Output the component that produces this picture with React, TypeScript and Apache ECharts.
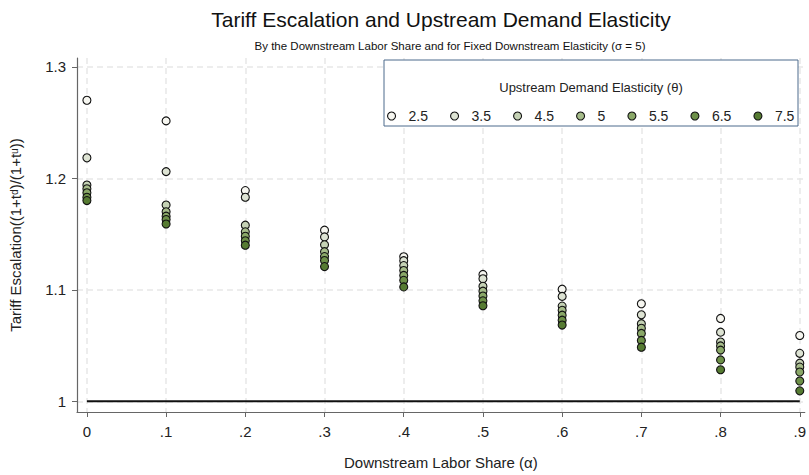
import React, { useEffect, useRef } from "react";
import * as echarts from "echarts";

const alphas = [0, 0.1, 0.2, 0.3, 0.4, 0.5, 0.6, 0.7, 0.8, 0.9];
const thetaNames = ["2.5", "3.5", "4.5", "5", "5.5", "6.5", "7.5"];
const theta2_5 = [1.27, 1.2515, 1.189, 1.1535, 1.1296, 1.1138, 1.1006, 1.0875, 1.0743, 1.059];
const theta3_5 = [1.2184, 1.206, 1.183, 1.1474, 1.1261, 1.1099, 1.0941, 1.0776, 1.062, 1.043];
const theta4_5 = [1.194, 1.176, 1.158, 1.1404, 1.1217, 1.1032, 1.0854, 1.0696, 1.0532, 1.0342];
const theta5 = [1.1906, 1.17, 1.152, 1.1342, 1.1173, 1.0988, 1.0816, 1.0655, 1.0497, 1.0307];
const theta5_5 = [1.187, 1.166, 1.148, 1.1298, 1.1129, 1.0944, 1.0772, 1.0609, 1.0459, 1.0263];
const theta6_5 = [1.183, 1.163, 1.144, 1.1263, 1.1085, 1.0901, 1.0728, 1.0546, 1.0371, 1.0182];
const theta7_5 = [1.18, 1.159, 1.14, 1.1208, 1.1026, 1.0857, 1.0684, 1.0485, 1.0283, 1.0094];
const seriesValues = [theta2_5, theta3_5, theta4_5, theta5, theta5_5, theta6_5, theta7_5];
const seriesColors = ["#f6f6f0", "#dde3d3", "#c5d2b5", "#a6bc8a", "#8aa868", "#6d9048", "#567b32"];
const xTicks = [0, 0.1, 0.2, 0.3, 0.4, 0.5, 0.6, 0.7, 0.8, 0.9];
const yTicks = [1, 1.1, 1.2, 1.3];
const baseline = [[0, 1], [0.9, 1]];

const FONT = "Liberation Sans, Arial, Helvetica, sans-serif";

export default function App() {
  const ref = useRef<HTMLDivElement>(null);
  useEffect(() => {
    if (!ref.current) return;
    const chart = echarts.init(ref.current, undefined, { renderer: "svg" });
    const scatterSeries = thetaNames.map((name, i) => ({
      name,
      type: "scatter",
      symbol: "circle",
      symbolSize: 8,
      z: 3 + i * 0.01,
      itemStyle: { color: seriesColors[i], borderColor: "#111", borderWidth: 1.1, opacity: 1 },
      data: alphas.map((a, j) => [a, seriesValues[i][j]]),
    }));
    const option: any = {
      animation: false,
      backgroundColor: "#ffffff",
      textStyle: { fontFamily: FONT },
      grid: { left: 72, right: 4, top: 58, bottom: 55, containLabel: false },
      xAxis: {
        type: "value",
        min: -0.0125,
        max: 0.9063,
        name: "Downstream Labor Share (\u03b1)",
        nameLocation: "middle",
        nameGap: 43,
        nameTextStyle: { fontSize: 15, color: "#222", fontFamily: FONT },
        axisLine: { show: true, onZero: false, lineStyle: { color: "#666", width: 1.2 } },
        axisTick: { show: true, length: 5, customValues: xTicks, lineStyle: { color: "#666" } },
        axisLabel: {
          customValues: xTicks,
          margin: 12,
          fontSize: 15,
          color: "#222",
          fontFamily: FONT,
          formatter: (v: number) => (Math.abs(v) < 1e-9 ? "0" : "." + Math.round(v * 10)),
        },
        splitLine: { show: true, lineStyle: { color: "#e8e8e8", type: [6, 4], width: 1.5 } },
      },
      yAxis: {
        type: "value",
        min: 0.9904,
        max: 1.3079,
        name: "Tariff Escalation((1+t\u1d48)/(1+t\u1d58))",
        nameLocation: "middle",
        nameGap: 54,
        nameTextStyle: { fontSize: 15, color: "#222", fontFamily: FONT },
        axisLine: { show: true, onZero: false, lineStyle: { color: "#666", width: 1.2 } },
        axisTick: { show: true, length: 5, customValues: yTicks, lineStyle: { color: "#666" } },
        axisLabel: {
          customValues: yTicks,
          margin: 11,
          fontSize: 15,
          color: "#222",
          fontFamily: FONT,
          formatter: (v: number) => (Math.abs(v - 1) < 1e-9 ? "1" : v.toFixed(1)),
        },
        splitLine: { show: true, lineStyle: { color: "#e8e8e8", type: [6, 4], width: 1.5 } },
      },
      legend: {
        show: true,
        orient: "horizontal",
        left: 387,
        top: 109,
        padding: 0,
        itemGap: 22,
        itemWidth: 16,
        itemHeight: 8,
        icon: "circle",
        itemStyle: { borderWidth: 1.1 },
        textStyle: { fontSize: 14, color: "#222", fontFamily: FONT, padding: [0, 0, 0, 4] },
        data: thetaNames,
        z: 10,
      },
      graphic: [
        {
          type: "rect",
          z: 5,
          shape: { x: 384, y: 60, width: 414, height: 66 },
          style: { fill: "#ffffff", stroke: "#4d6a8c", lineWidth: 1 },
        },
        {
          type: "text",
          z: 6,
          x: 591,
          y: 87,
          style: {
            text: "Upstream Demand Elasticity (\u03b8)",
            textAlign: "center",
            textVerticalAlign: "middle",
            fontSize: 13,
            fontFamily: FONT,
            fill: "#222",
          },
        },
        {
          type: "text",
          z: 6,
          x: 441,
          y: 19,
          style: {
            text: "Tariff Escalation and Upstream Demand Elasticity",
            textAlign: "center",
            textVerticalAlign: "middle",
            fontSize: 21,
            fontFamily: FONT,
            fill: "#111",
          },
        },
        {
          type: "text",
          z: 6,
          x: 450,
          y: 46,
          style: {
            text: "By the Downstream Labor Share and for Fixed Downstream Elasticity (\u03c3 = 5)",
            textAlign: "center",
            textVerticalAlign: "middle",
            fontSize: 11.5,
            fontFamily: FONT,
            fill: "#111",
          },
        },
      ],
      series: [
        {
          name: "baseline",
          type: "line",
          data: baseline,
          symbol: "none",
          z: 2,
          lineStyle: { color: "#111", width: 2 },
          silent: true,
        },
        ...scatterSeries,
      ],
    };
    chart.setOption(option);
    return () => chart.dispose();
  }, []);
  return (
    <div
      ref={ref}
      style={{ position: "fixed", left: 0, top: 0, width: 809, height: 475 }}
    />
  );
}
